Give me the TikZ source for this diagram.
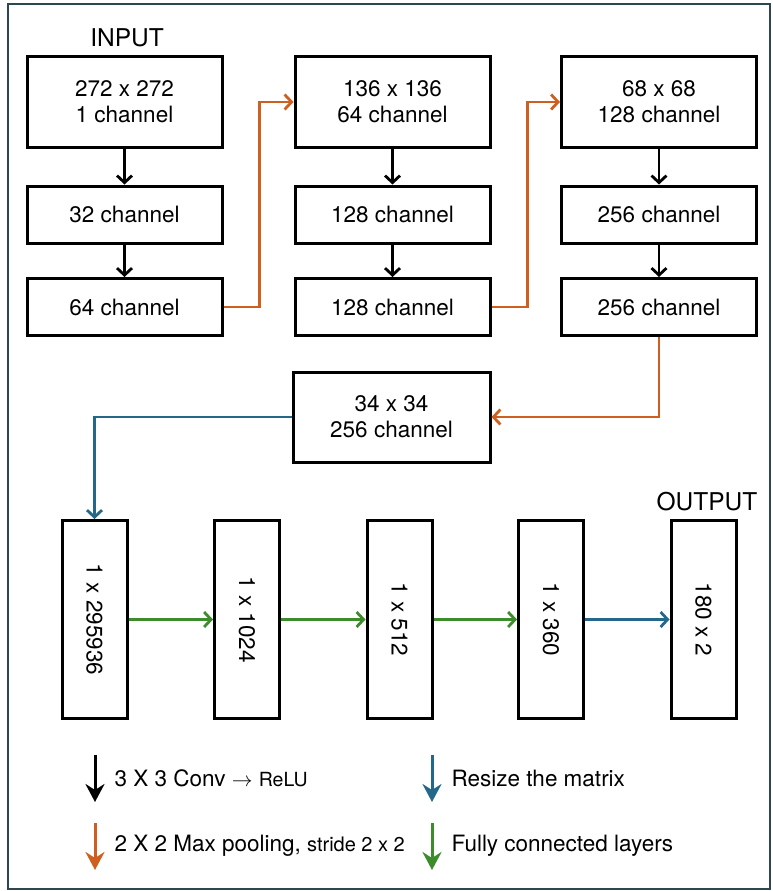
\documentclass[tikz,border=0pt]{standalone}
\usepackage{fontspec}
\setmainfont{TeX Gyre Heros}
\usetikzlibrary{arrows.meta}

\definecolor{poolorange}{HTML}{CF5F1E}
\definecolor{resizeblue}{HTML}{23688A}
\definecolor{fcgreen}{HTML}{3D8C2B}
\definecolor{frameslate}{HTML}{2E4650}

\begin{document}
\begin{tikzpicture}[x=1pt, y=-1pt,
    every node/.style={font=\fontsize{22.5}{26}\selectfont, align=center},
    layer/.style={draw, line width=3pt, inner sep=0pt},
    wide/.style={layer, minimum width=195pt},
    tall/.style={layer, minimum width=65pt, minimum height=198pt},
    conv/.style={-{Straight Barb[length=7pt, width=15pt]}, line width=2.8pt},
    pool/.style={conv, poolorange},
    resize/.style={conv, resizeblue},
    fc/.style={conv, fcgreen},
    key/.style={-{Stealth[length=18pt, width=19pt, inset=6pt]}, line width=3pt},
    keytext/.style={anchor=west, font=\fontsize{22.5}{26}\selectfont},
    title/.style={font=\fontsize{24.5}{28}\selectfont}
]

    \useasboundingbox (0,0) rectangle (772,891);
    \draw[frameslate, line width=1.6pt] (8,4) rectangle (770,889);

    % First column
    \node[title] at (127,38) {INPUT};
    \node[wide, minimum height=90pt] (in1) at (124.5,102) {272 x 272\\1 channel};
    \node[wide, minimum height=57pt] (c32) at (124.5,214.5) {32 channel};
    \node[wide, minimum height=57pt] (c64) at (124.5,307) {64 channel};

    % Second column
    \node[wide, minimum height=90pt] (in2) at (392.5,102) {136 x 136\\64 channel};
    \node[wide, minimum height=57pt] (c128a) at (392.5,214.5) {128 channel};
    \node[wide, minimum height=57pt] (c128b) at (392.5,307) {128 channel};

    % Third column
    \node[wide, minimum height=90pt] (in3) at (659,102) {68 x 68\\128 channel};
    \node[wide, minimum height=57pt] (c256a) at (659,214.5) {256 channel};
    \node[wide, minimum height=57pt] (c256b) at (659,307) {256 channel};

    % Pooled block
    \node[wide, minimum width=197pt, minimum height=90pt] (p34) at (391.5,417) {34 x 34\\256 channel};

    % Fully connected part
    \node[tall] (f1) at (94.5,619.5) {\rotatebox{-90}{1 x 295936}};
    \node[tall] (f2) at (247,619.5) {\rotatebox{-90}{1 x 1024}};
    \node[tall] (f3) at (399.5,619.5) {\rotatebox{-90}{1 x 512}};
    \node[tall] (f4) at (551,619.5) {\rotatebox{-90}{1 x 360}};
    \node[tall] (out) at (703.5,619.5) {\rotatebox{-90}{180 x 2}};
    \node[title] at (707,502) {OUTPUT};

    % Convolutions
    \draw[conv] (in1) -- (c32);
    \draw[conv] (c32) -- (c64);
    \draw[conv] (in2) -- (c128a);
    \draw[conv] (c128a) -- (c128b);
    \draw[conv] (in3) -- (c256a);
    \draw[conv] (c256a) -- (c256b);

    % Max pooling
    \draw[pool] (c64.east) -- ++(36,0) |- (in2.west);
    \draw[pool] (c128b.east) -- ++(36,0) |- (in3.west);
    \draw[pool] (c256b.south) |- (p34.east);

    % Resize and dense layers
    \draw[resize] (p34.west) -| (f1.north);
    \draw[fc] (f1) -- (f2);
    \draw[fc] (f2) -- (f3);
    \draw[fc] (f3) -- (f4);
    \draw[resize] (f4) -- (out);

    % Legend
    \coordinate (k1) at (95,755);
    \coordinate (k2) at (95,823);
    \coordinate (k3) at (432,755);
    \coordinate (k4) at (432,823);
    \draw[key] (k1) -- ++(0,47);
    \draw[key, poolorange] (k2) -- ++(0,47);
    \draw[key, resizeblue] (k3) -- ++(0,47);
    \draw[key, fcgreen] (k4) -- ++(0,47);
    \node[keytext] (t1) at (111,778)
        {3 X 3 Conv $\rightarrow$ {\fontsize{19.5}{22}\selectfont ReLU}};
    \node[keytext] (t2) at (111,846)
        {2 X 2 Max pooling, {\fontsize{20}{22}\selectfont stride 2 x 2}};
    \node[keytext] (t3) at (448,778) {Resize the matrix};
    \node[keytext] (t4) at (448,846) {Fully connected layers};

\end{tikzpicture}
\end{document}
